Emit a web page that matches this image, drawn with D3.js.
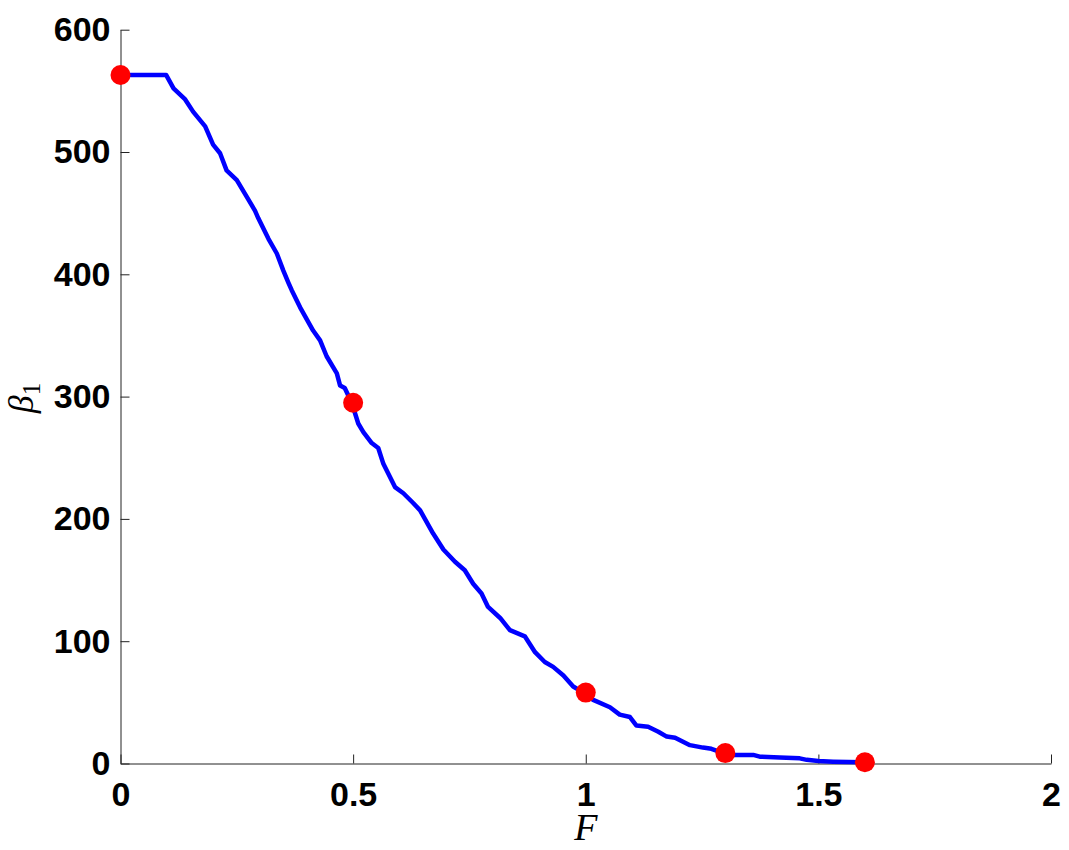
<!DOCTYPE html>
<html>
<head>
<meta charset="utf-8">
<script src="https://cdn.jsdelivr.net/npm/d3@7"></script>
<style>
  body { margin: 0; background: #fff; }
  svg { display: block; }
</style>
</head>
<body>
<svg width="1069" height="850"></svg>
<script>
// curve
const fValues = [0, 0.098, 0.114, 0.139, 0.156, 0.182, 0.199, 0.214, 0.228, 0.25,
  0.275, 0.289, 0.296, 0.318, 0.336, 0.35, 0.361, 0.368, 0.386, 0.414,
  0.429, 0.443, 0.465, 0.472, 0.482, 0.497, 0.511, 0.522, 0.54, 0.554,
  0.565, 0.59, 0.608, 0.629, 0.644, 0.672, 0.694, 0.719, 0.74, 0.758,
  0.776, 0.79, 0.816, 0.837, 0.869, 0.891, 0.912, 0.93, 0.952, 0.973,
  0.995, 1.016, 1.052, 1.073, 1.095, 1.109, 1.134, 1.156, 1.174, 1.192,
  1.224, 1.252, 1.27, 1.296, 1.317, 1.36, 1.374, 1.417, 1.46, 1.475,
  1.5, 1.532, 1.596, 1.618];
const betaValues = [563, 563, 552, 543, 533, 521, 506, 499, 485, 477,
  461, 452, 446, 429, 417, 403, 393, 387, 373, 354,
  346, 333, 319, 309, 307, 295, 278, 271, 262, 258,
  245, 226, 221, 213, 207, 188, 175, 165, 158, 147,
  139, 128, 119, 109, 104, 91, 83, 79, 72, 63,
  58, 52, 46, 40, 38, 31, 30, 26, 22, 21,
  15, 13, 12, 8.5, 7, 7, 5.6, 5, 4.2, 3,
  2, 1.5, 1, 1];

// red markers
const markF = [0, 0.5, 1.0, 1.3, 1.6];
const markBeta = [563, 295, 58, 8.5, 1];

const xTicks = [0, 0.5, 1, 1.5, 2];
const yTicks = [0, 100, 200, 300, 400, 500, 600];

const svg = d3.select('svg');

const x = d3.scaleLinear().domain([0, 2]).range([120.5, 1051]);
const y = d3.scaleLinear().domain([0, 600]).range([763.5, 29.7]);

// axes, ticks point inward like matlab
const xAxis = d3.axisBottom(x)
  .tickValues(xTicks)
  .tickFormat(d => String(d))
  .tickSizeInner(-9)
  .tickSizeOuter(0)
  .tickPadding(18);

const yAxis = d3.axisLeft(y)
  .tickValues(yTicks)
  .tickFormat(d => String(d))
  .tickSizeInner(-9)
  .tickSizeOuter(0)
  .tickPadding(10);

const gx = svg.append('g')
  .attr('transform', `translate(0,${y(0)})`)
  .call(xAxis);
const gy = svg.append('g')
  .attr('transform', `translate(${x(0)},0)`)
  .call(yAxis);

[gx, gy].forEach(g => {
  g.selectAll('path, line').attr('stroke', '#222').attr('stroke-width', 1);
  g.selectAll('text')
    .attr('fill', '#000')
    .style('font-family', '"Liberation Sans", Arial, sans-serif')
    .style('font-weight', 'bold')
    .style('font-size', '34px');
});

// the curve
const pts = fValues.map((f, i) => ({f: f, b: betaValues[i]}));
const line = d3.line()
  .x(d => x(d.f))
  .y(d => y(d.b));

svg.append('path')
  .attr('d', line(pts))
  .attr('fill', 'none')
  .attr('stroke', '#0000ff')
  .attr('stroke-width', 4.5)
  .attr('stroke-linejoin', 'round');

svg.selectAll('circle.mark')
  .data(markF.map((f, i) => ({f: f, b: markBeta[i]})))
  .enter().append('circle')
  .attr('class', 'mark')
  .attr('cx', d => x(d.f))
  .attr('cy', d => y(d.b))
  .attr('r', 10)
  .attr('fill', '#ff0000');

// axis labels
svg.append('text')
  .attr('x', x(1))
  .attr('y', 840)
  .attr('text-anchor', 'middle')
  .style('font-family', '"Liberation Serif", "DejaVu Serif", serif')
  .style('font-style', 'italic')
  .style('font-size', '38px')
  .text('F');

const yl = svg.append('text')
  .attr('transform', 'translate(33,398) rotate(-90)')
  .attr('text-anchor', 'middle')
  .style('font-family', '"Liberation Serif", "DejaVu Serif", serif')
  .style('font-size', '36px');
yl.append('tspan').style('font-style', 'italic').text('β');
yl.append('tspan')
  .attr('dy', 7)
  .style('font-size', '25px')
  .text('1');
</script>
</body>
</html>
